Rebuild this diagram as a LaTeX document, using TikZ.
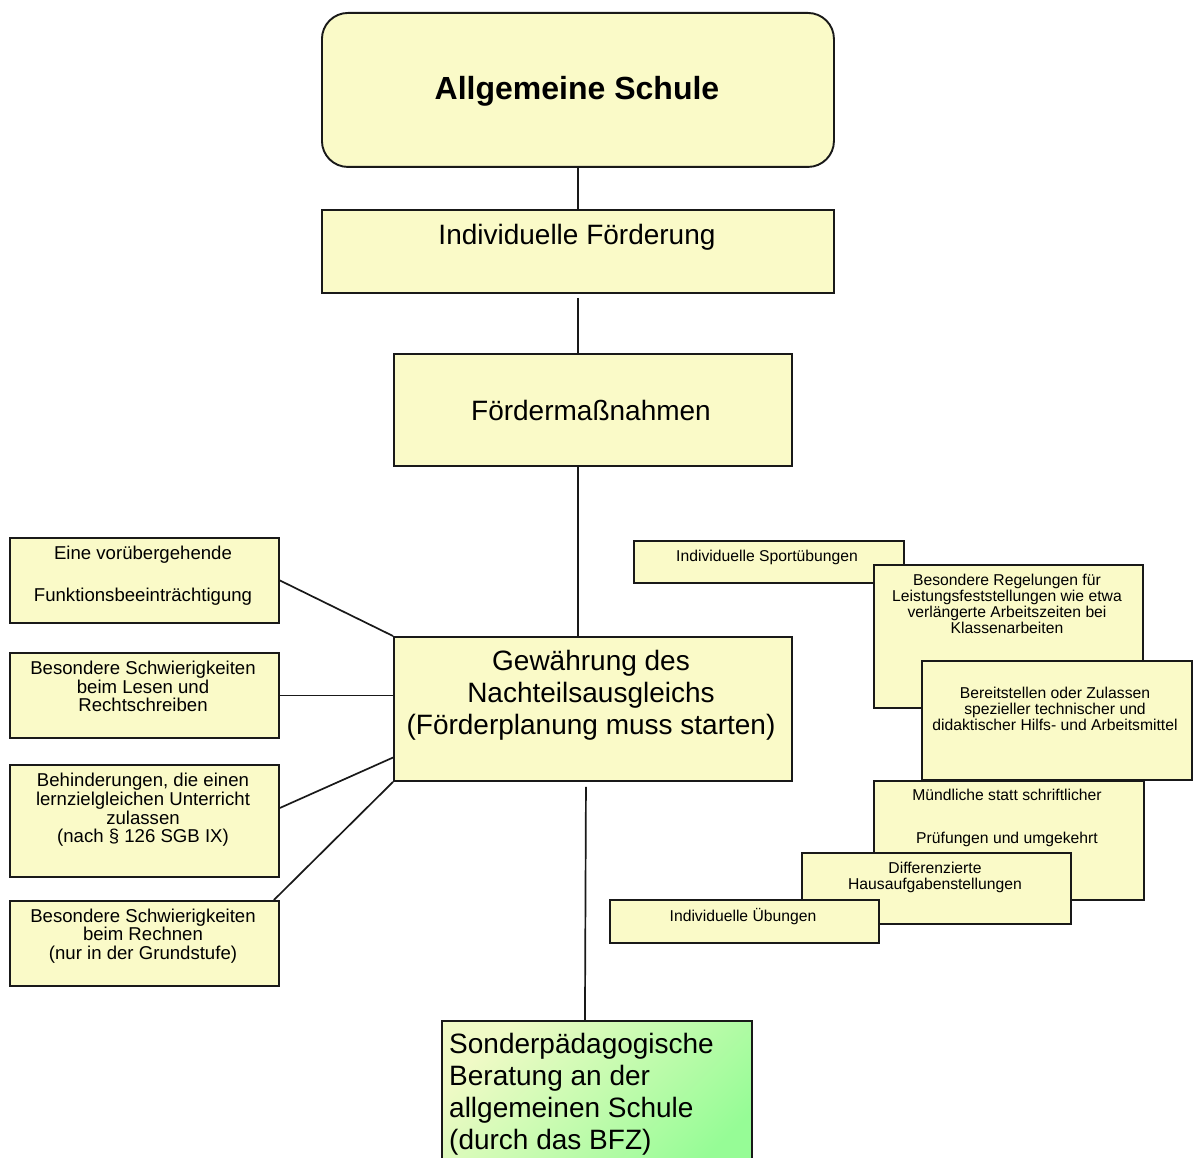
\documentclass[tikz,border=0pt]{standalone}
\usepackage{fontspec}
\setmainfont{Liberation Sans}
\usetikzlibrary{calc}
\definecolor{boxfill}{RGB}{250,250,200}
\definecolor{greenA}{RGB}{240,250,198}
\definecolor{greenB}{RGB}{150,252,150}
\begin{document}
\begin{tikzpicture}[x=1pt,y=-1pt,
  box/.style={draw=black!90, line width=1.9pt, fill=boxfill, inner sep=0pt, anchor=north west},
  bigtxt/.style={font=\fontsize{28}{32}\selectfont, align=center, inner sep=0pt},
  midtxt/.style={font=\fontsize{18.6}{18.6}\selectfont, align=center, inner sep=0pt},
  smalltxt/.style={font=\fontsize{15.7}{16}\selectfont, align=center, inner sep=0pt},
  conn/.style={line width=1.7pt, draw=black!90}]
\useasboundingbox (0,0) rectangle (1196,1158);
\begin{scope}
\clip (0,0) rectangle (1196,1158);
% top chain
\node[box, rounded corners=26pt, minimum width=512, minimum height=154] (A) at (321,12) {};
\node[font=\bfseries\fontsize{32}{36}\selectfont, inner sep=0pt] (At) at (577,91) {Allgemeine Schule};
\node[box, minimum width=512, minimum height=83] (IF) at (321,209) {};
\node[bigtxt] (IFt) at (577,237) {Individuelle Förderung};
\node[box, minimum width=398, minimum height=112] (FM) at (393,353) {};
\node[bigtxt] (FMt) at (591,410) {Fördermaßnahmen};
\node[box, minimum width=398, minimum height=144] (G) at (393,636) {};
\node[bigtxt] (Gt) at (591,695) {Gewährung des\\Nachteilsausgleichs\\(Förderplanung muss starten)};
% green box
\node[draw=black!90, line width=1.9pt, inner sep=0pt, anchor=north west,
      left color=greenA, right color=greenB, shading angle=45,
      minimum width=310, minimum height=160] (S) at (441,1020) {};
\node[font=\fontsize{28}{32}\selectfont, align=left, inner sep=0pt, anchor=west] (St) at (449,1094) {Sonderpädagogische\\Beratung an der\\allgemeinen Schule\\(durch das BFZ)};
\end{scope}
% left boxes
\node[box, minimum width=269, minimum height=85] (L1) at (9,537) {};
\node[midtxt] (L1t) at (143,575.5) {Eine vorübergehende\\[23.4pt]Funktionsbeeinträchtigung};
\node[box, minimum width=269, minimum height=85] (L2) at (9,652) {};
\node[midtxt] (L2t) at (143,686.5) {Besondere Schwierigkeiten\\beim Lesen und\\Rechtschreiben};
\node[box, minimum width=269, minimum height=112] (L3) at (9,764) {};
\node[midtxt] (L3t) at (143,810) {Behinderungen, die einen\\lernzielgleichen Unterricht\\zulassen\\(nach § 126 SGB IX)};
\node[box, minimum width=269, minimum height=85] (L4) at (9,900) {};
\node[midtxt] (L4t) at (143,936) {Besondere Schwierigkeiten\\beim Rechnen\\(nur in der Grundstufe)};
% right boxes
\node[box, minimum width=270, minimum height=42] (R1) at (633,540) {};
\node[smalltxt] (R1t) at (767,557) {Individuelle Sportübungen};
\node[box, minimum width=269, minimum height=143] (R2) at (873,564) {};
\node[smalltxt] (R2t) at (1007,604) {Besondere Regelungen für\\Leistungsfeststellungen wie etwa\\verlängerte Arbeitszeiten bei\\Klassenarbeiten};
\node[box, minimum width=270, minimum height=119] (R4) at (873,780) {};
\node[smalltxt] (R4t) at (1007,818) {Mündliche statt schriftlicher\\[26.3pt]Prüfungen und umgekehrt};
\node[box, minimum width=270, minimum height=119] (R3) at (921,660) {};
\node[smalltxt] (R3t) at (1055,708.5) {Bereitstellen oder Zulassen\\spezieller technischer und\\didaktischer Hilfs- und Arbeitsmittel};
\node[box, minimum width=269, minimum height=71] (R5) at (801,852) {};
\node[smalltxt] (R5t) at (935,877) {Differenzierte\\Hausaufgabenstellungen};
\node[box, minimum width=269, minimum height=43] (R6) at (609,899) {};
\node[smalltxt] (R6t) at (743,917) {Individuelle Übungen};
% connectors
\draw[conn] (A.south) -- (IF.north);
\draw[conn] ([yshift=-4pt]IF.south) -- (IF.south |- FM.north);
\draw[conn] (FM.south -| A.south) -- (G.north -| A.south);
\draw[conn] ([xshift=-7pt,yshift=-5pt]G.south) -- ([xshift=-12pt]S.north);
\draw[conn] (L1.east) -- (G.north west);
\draw[conn] (L2.east) -- (L2.east -| G.west);
\draw[conn] ([yshift=13pt]L3.east) -- ($(G.north west)!0.833!(G.south west)$);
\draw[conn] ([xshift=-6pt]L4.north east) -- (G.south west);
\end{tikzpicture}
\end{document}
